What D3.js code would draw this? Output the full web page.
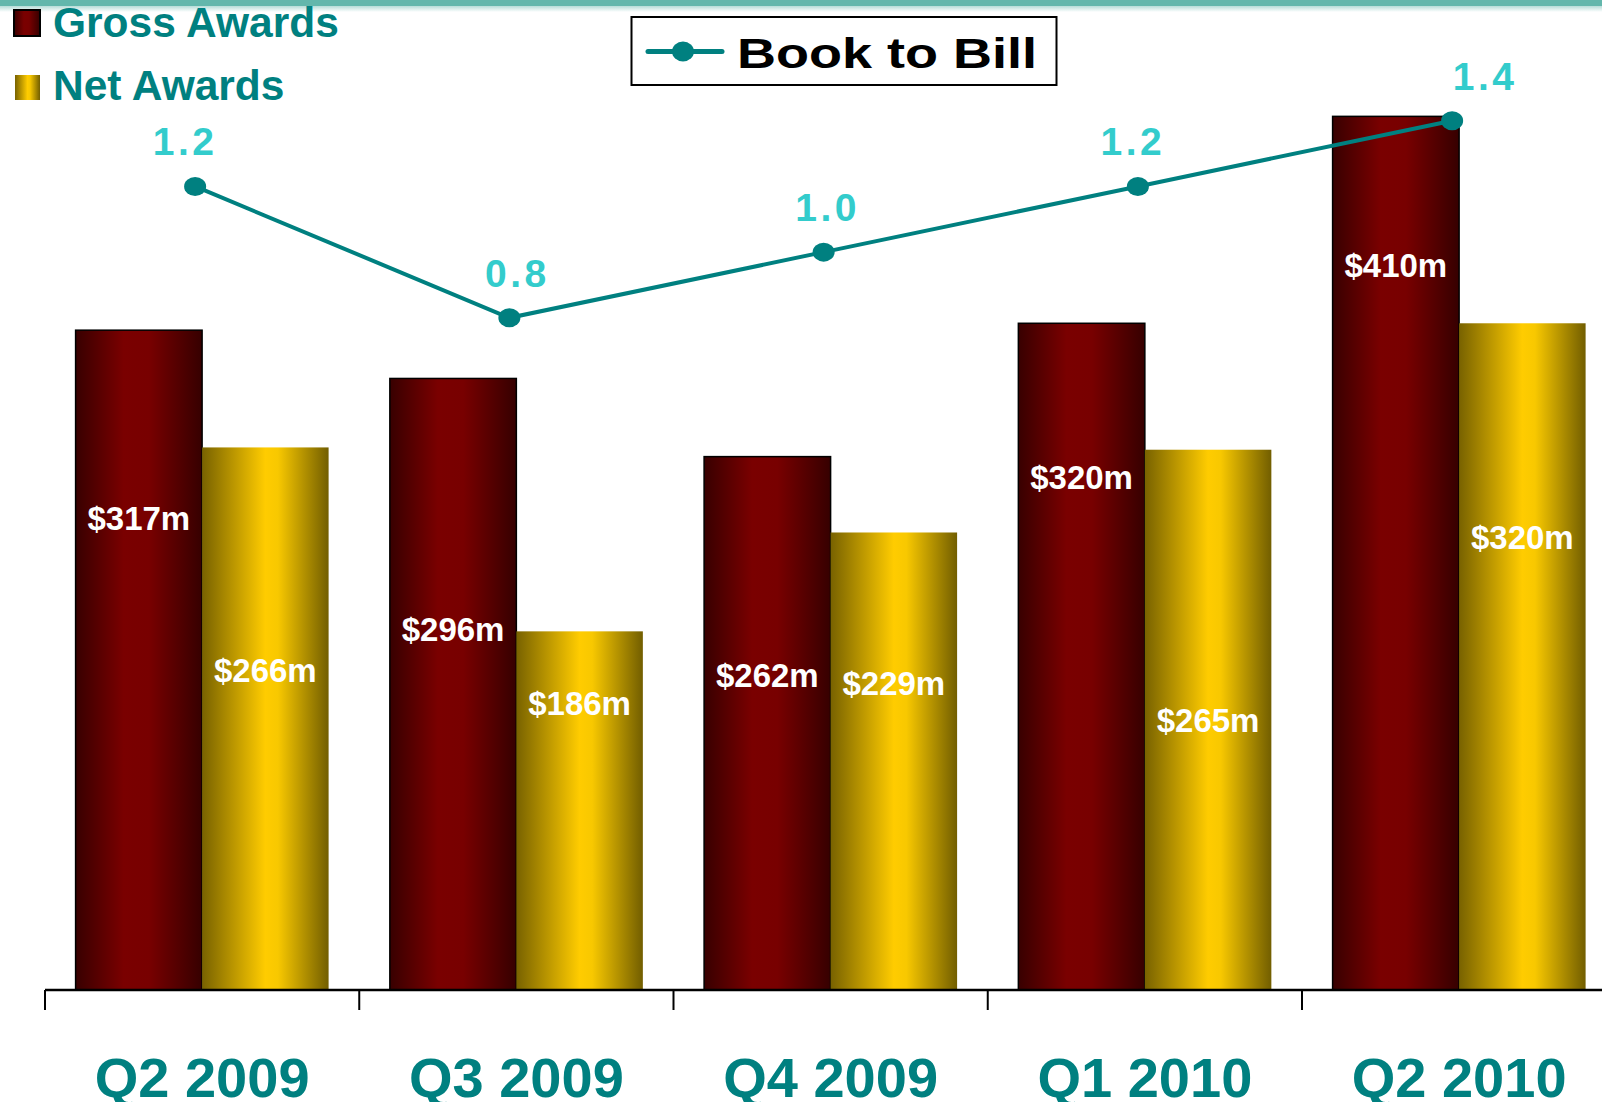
<!DOCTYPE html>
<html>
<head>
<meta charset="utf-8">
<script src="https://cdn.jsdelivr.net/npm/d3@7"></script>
<style>
  html, body { margin: 0; padding: 0; background: #fff; }
  svg { display: block; font-family: "Liberation Sans", Arial, sans-serif; font-weight: bold; }
</style>
</head>
<body>
<svg id="chart" width="1602" height="1102"></svg>
<script>
'use strict'

// data
const quarters = ['Q2 2009', 'Q3 2009', 'Q4 2009', 'Q1 2010', 'Q2 2010']
const grossAwards = [317, 296, 262, 320, 410]
const netAwards = [266, 186, 229, 265, 320]
const bookToBill = [1.2, 0.8, 1.0, 1.2, 1.4]

// where the value labels sit inside each bar (fraction of bar height from its top)
const grossLabelFrac = [0.284, 0.41, 0.41, 0.23, 0.17]
const netLabelFrac = [0.41, 0.2, 0.33, 0.5, 0.32]
// small sideways nudges of the book-to-bill labels, as placed in the original
const b2bLabelDx = [-10, 8, 4, -5, 33]

const W = 1602, H = 1102
const TEAL = '#008080'
const svg = d3.select('#chart')

// gradients
const defs = svg.append('defs')
const addGrad = (id, stops) => {
  const g = defs.append('linearGradient').attr('id', id)
    .attr('x1', '0%').attr('x2', '100%').attr('y1', '0%').attr('y2', '0%')
  stops.forEach(([o, c]) => g.append('stop').attr('offset', o).attr('stop-color', c))
}
addGrad('gradGross', [['0%', '#380000'], ['38%', '#7a0000'], ['58%', '#780000'], ['100%', '#360000']])
addGrad('gradNet', [['0%', '#786200'], ['50%', '#ffcc00'], ['60%', '#f8c800'], ['100%', '#725e00']])
const band = defs.append('linearGradient').attr('id', 'gradBand')
  .attr('x1', '0').attr('x2', '0').attr('y1', '0').attr('y2', '1')
band.append('stop').attr('offset', '0%').attr('stop-color', '#b6ddd8')
band.append('stop').attr('offset', '100%').attr('stop-color', '#ffffff')

// top band
svg.append('rect').attr('x', 0).attr('y', 0).attr('width', W).attr('height', 6).attr('fill', '#63b7ac')
svg.append('rect').attr('x', 0).attr('y', 6).attr('width', W).attr('height', 6).attr('fill', 'url(#gradBand)')

// scales
const x = d3.scaleBand().domain(quarters).range([45, 45 + 5 * 314.25])
const xSub = d3.scaleBand().domain(['gross', 'net']).range([30.6, 30.6 + 253])
const y = d3.scaleLinear().domain([30, 450]).range([990, 24.4])
const y2 = d3.scaleLinear().domain([0, 1.5]).range([580.6, 87.9])
const lineX = (d, i) => x(quarters[i]) + x.bandwidth() / 2 - 7

const series = [
  { key: 'gross', values: grossAwards, fill: 'url(#gradGross)', stroke: '#000', frac: grossLabelFrac },
  { key: 'net', values: netAwards, fill: 'url(#gradNet)', stroke: 'none', frac: netLabelFrac }
]

// bars
const bars = svg.append('g').attr('class', 'bars')
series.forEach(s => {
  bars.selectAll('rect.' + s.key)
    .data(s.values)
    .enter().append('rect')
    .attr('class', s.key)
    .attr('x', (d, i) => x(quarters[i]) + xSub(s.key))
    .attr('y', d => y(d))
    .attr('width', xSub.bandwidth())
    .attr('height', d => y(30) - y(d))
    .attr('fill', s.fill)
    .attr('stroke', s.stroke)
    .attr('stroke-width', 1.5)
})

// bar value labels
series.forEach(s => {
  bars.selectAll('text.' + s.key)
    .data(s.values)
    .enter().append('text')
    .attr('class', s.key)
    .attr('x', (d, i) => x(quarters[i]) + xSub(s.key) + xSub.bandwidth() / 2)
    .attr('y', (d, i) => y(d) + (y(30) - y(d)) * s.frac[i] + 12)
    .attr('text-anchor', 'middle')
    .attr('fill', '#fff')
    .attr('font-size', 33)
    .text(d => `$${d}m`)
})

// x axis
const axis = svg.append('g').attr('class', 'axis')
axis.append('line')
  .attr('x1', 45).attr('x2', W).attr('y1', 990).attr('y2', 990)
  .attr('stroke', '#000').attr('stroke-width', 2.5)
axis.selectAll('line.tick')
  .data(quarters)
  .enter().append('line')
  .attr('class', 'tick')
  .attr('x1', d => x(d)).attr('x2', d => x(d))
  .attr('y1', 990).attr('y2', 1010)
  .attr('stroke', '#000').attr('stroke-width', 2)
axis.selectAll('text')
  .data(quarters)
  .enter().append('text')
  .attr('x', d => x(d) + x.bandwidth() / 2)
  .attr('y', 1097)
  .attr('text-anchor', 'middle')
  .attr('fill', TEAL)
  .attr('font-size', 56)
  .text(d => d)

// book to bill line
const line = d3.line().x(lineX).y(d => y2(d))
svg.append('path')
  .datum(bookToBill)
  .attr('d', line)
  .attr('fill', 'none')
  .attr('stroke', TEAL)
  .attr('stroke-width', 4)

svg.selectAll('ellipse.pt')
  .data(bookToBill)
  .enter().append('ellipse')
  .attr('class', 'pt')
  .attr('cx', lineX)
  .attr('cy', d => y2(d))
  .attr('rx', 11).attr('ry', 9.5)
  .attr('fill', TEAL)

svg.selectAll('text.b2b')
  .data(bookToBill)
  .enter().append('text')
  .attr('class', 'b2b')
  .attr('x', (d, i) => lineX(d, i) + b2bLabelDx[i])
  .attr('y', d => y2(d) - 31)
  .attr('text-anchor', 'middle')
  .attr('fill', '#33cccc')
  .attr('font-size', 39)
  .attr('letter-spacing', 3.5)
  .text(d => d3.format('.1f')(d))

// legend, top left
const legend = svg.append('g').attr('class', 'legend')
legend.append('rect').attr('x', 14).attr('y', 10).attr('width', 26).attr('height', 26)
  .attr('fill', 'url(#gradGross)').attr('stroke', '#000').attr('stroke-width', 2)
legend.append('rect').attr('x', 15).attr('y', 75).attr('width', 25).attr('height', 25)
  .attr('fill', 'url(#gradNet)')
legend.append('text').attr('x', 53).attr('y', 37).attr('fill', TEAL).attr('font-size', 42.5).text('Gross Awards')
legend.append('text').attr('x', 53).attr('y', 100).attr('fill', TEAL).attr('font-size', 42.5).text('Net Awards')

// legend, book to bill box
const lb = svg.append('g').attr('class', 'legend-b2b')
lb.append('rect').attr('x', 631.5).attr('y', 17).attr('width', 425).attr('height', 68)
  .attr('fill', '#fff').attr('stroke', '#000').attr('stroke-width', 2)
lb.append('line').attr('x1', 648).attr('x2', 722).attr('y1', 51.5).attr('y2', 51.5)
  .attr('stroke', TEAL).attr('stroke-width', 5).attr('stroke-linecap', 'round')
lb.append('ellipse').attr('cx', 683).attr('cy', 51.5).attr('rx', 11).attr('ry', 10).attr('fill', TEAL)
lb.append('text').attr('x', 737).attr('y', 68).attr('fill', '#000').attr('font-size', 42)
  .attr('textLength', 300).attr('lengthAdjust', 'spacingAndGlyphs').text('Book to Bill')
</script>
</body>
</html>
